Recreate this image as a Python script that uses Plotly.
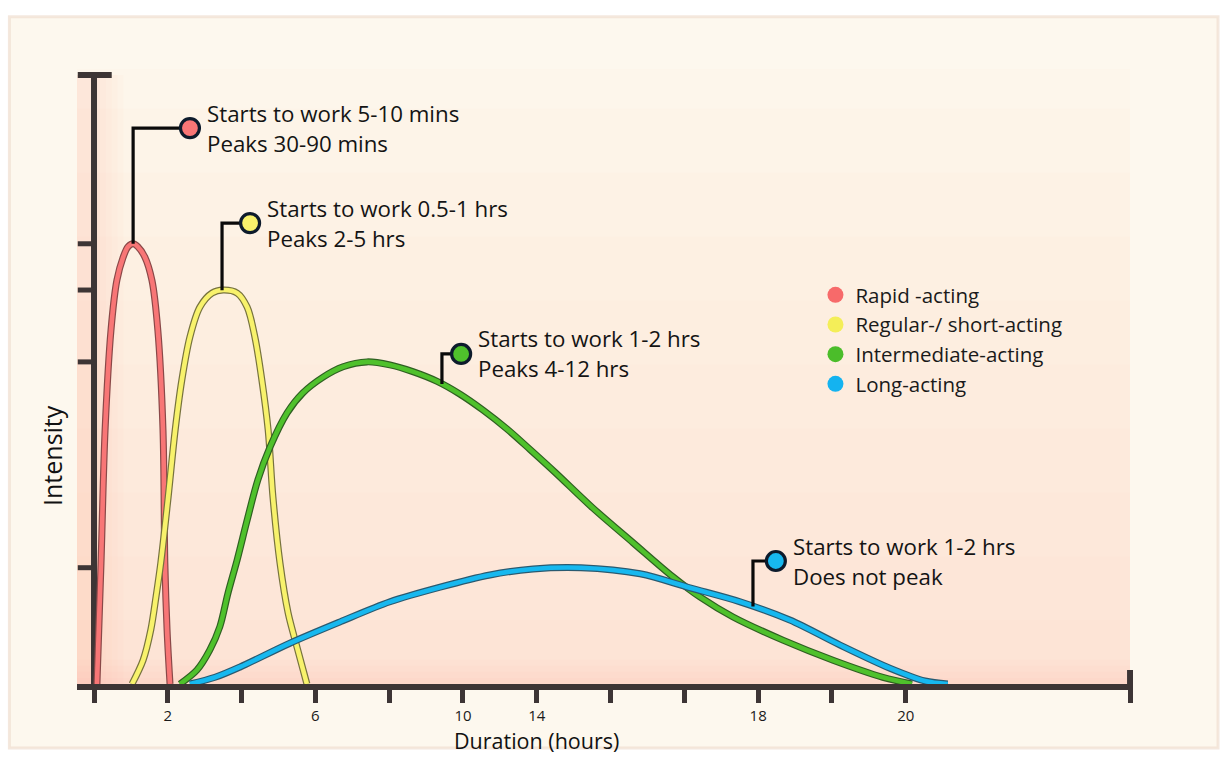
import numpy as np
import plotly.graph_objects as go

# ---------------- data ----------------
# x = duration (hours, one axis tick = 2 h), y = relative intensity (0-100 scale)
rapid_x = [0.08, 0.19, 0.30, 0.46, 0.62, 0.79, 0.92, 1.06, 1.19, 1.38, 1.57, 1.73, 1.87, 1.92, 1.98, 2.06]
rapid_y = [0, 19.9, 41.7, 58.1, 66.3, 70.1, 71.8, 72.3, 71.8, 70.1, 66.3, 58.1, 41.7, 19.9, 8.9, 0]

regular_x = [1.03, 1.33, 1.54, 1.68, 1.81, 2.01, 2.20, 2.38, 2.60, 2.87, 3.20, 3.50, 3.88, 4.15, 4.36,
             4.55, 4.72, 4.85, 5.04, 5.26, 5.50, 5.77]
regular_y = [0, 3.9, 8.9, 14.3, 19.9, 30.7, 41.7, 49.9, 57.0, 61.9, 64.2, 64.7, 64.2, 61.9, 57.0,
             49.9, 41.7, 30.7, 19.9, 11.7, 6.1, 0]

inter_x = [2.33, 2.79, 3.14, 3.41, 3.63, 3.88, 4.15, 4.44, 4.77, 5.23, 5.66, 6.21, 6.75, 7.40, 8.02,
           8.64, 9.30, 9.92, 10.54, 11.19, 11.82, 12.49, 13.52, 14.61, 15.69, 16.42, 17.32, 18.67,
           20.03, 21.38, 22.17]
inter_y = [0, 2.3, 5.6, 9.4, 14.9, 20.4, 26.9, 33.5, 38.9, 44.5, 47.8, 50.4, 52.1, 52.9, 52.4,
           51.3, 49.7, 47.6, 45.0, 41.9, 38.5, 34.8, 28.9, 23.2, 17.6, 14.3, 11.0, 7.2,
           3.9, 1.1, 0]

long_x = [2.60, 3.28, 3.96, 5.31, 6.67, 8.02, 9.38, 10.73, 11.90, 13.20, 14.80, 16.15, 17.51, 18.86,
          20.22, 21.57, 22.52, 23.14]
long_y = [0, 1.1, 2.8, 6.7, 10.2, 13.5, 15.9, 17.9, 18.9, 19.1, 18.1, 15.8, 13.5, 10.5,
          6.4, 2.6, 0.5, 0]

series_names = ["Rapid -acting", "Regular-/ short-acting", "Intermediate-acting", "Long-acting"]
callout_line1 = ["Starts to work 5-10 mins", "Starts to work 0.5-1 hrs",
                 "Starts to work 1-2 hrs", "Starts to work 1-2 hrs"]
callout_line2 = ["Peaks 30-90 mins", "Peaks 2-5 hrs", "Peaks 4-12 hrs", "Does not peak"]

tick_vals = [0, 2, 4, 6, 8, 10, 12, 14, 16, 18, 20, 22]
tick_text = ["", "2", "", "6", "", "10", "14", "", "", "18", "", "20"]

# ---------------- styling / layout constants ----------------
AXIS_END = 28.08
Y_TOP = 100
colors = ["#f87676", "#f8f26c", "#4fc12c", "#17b8ef"]
outline = ["#8a4848", "#77733e", "#2f5f22", "#2a5a70"]
legend_colors = ["#f76a6a", "#f4ee58", "#4bbd2a", "#14b3f0"]
stem_x = [1.06, 3.47, 9.43, 17.86]
elbow_y = [91.3, 75.7, 54.2, 20.2]
dot_x = [2.60, 4.23, 9.95, 18.48]
AX = "#3d3535"
FONT = "Open Sans"

xs = [rapid_x, regular_x, inter_x, long_x]
ys = [rapid_y, regular_y, inter_y, long_y]

fig = go.Figure()

# curves (dark outline under coloured line)
for i in range(4):
    fig.add_trace(go.Scatter(x=xs[i], y=ys[i], mode="lines",
                             line=dict(color=outline[i], width=7, shape="spline", smoothing=0.9),
                             hoverinfo="skip", showlegend=False))
    fig.add_trace(go.Scatter(x=xs[i], y=ys[i], mode="lines",
                             line=dict(color=colors[i], width=4.6, shape="spline", smoothing=0.9),
                             name=series_names[i], showlegend=False))

# callouts
annotations = []
for i in range(4):
    y_on_curve = float(np.interp(stem_x[i], xs[i], ys[i]))
    fig.add_trace(go.Scatter(x=[stem_x[i], stem_x[i], dot_x[i]], y=[y_on_curve, elbow_y[i], elbow_y[i]],
                             mode="lines", line=dict(color="#0a0a0a", width=3.2),
                             hoverinfo="skip", showlegend=False))
    fig.add_trace(go.Scatter(x=[dot_x[i]], y=[elbow_y[i]], mode="markers",
                             marker=dict(size=19, color=colors[i], line=dict(color="#0d1b2c", width=3.2)),
                             hoverinfo="skip", showlegend=False, cliponaxis=False))
    for txt, ysh in ((callout_line1[i], 15), (callout_line2[i], -15)):
        annotations.append(dict(x=dot_x[i], y=elbow_y[i], xref="x", yref="y", text=txt, showarrow=False,
                                xanchor="left", yanchor="middle", xshift=15, yshift=ysh,
                                font=dict(family=FONT, size=22.3, color="#141414")))

# legend entries (coloured balls)
for i in range(4):
    fig.add_trace(go.Scatter(x=[None], y=[None], mode="markers", name=series_names[i],
                             legendgroup=series_names[i],
                             marker=dict(size=16, color=legend_colors[i], line=dict(width=0))))

# axis titles
annotations.append(dict(x=0.4356, y=-0.1185, xref="paper", yref="paper", text="Duration (hours)",
                        showarrow=False, xanchor="center", yanchor="bottom",
                        font=dict(family=FONT, size=21.5, color="#111")))
annotations.append(dict(x=-0.0237, y=0.3724, xref="paper", yref="paper", text="Intensity", showarrow=False,
                        textangle=-90, xanchor="center", yanchor="middle",
                        font=dict(family=FONT, size=25, color="#111")))

peaks = [max(v) for v in ys]

shapes = [
    # card background
    dict(type="rect", xref="paper", yref="paper", x0=-0.064, x1=1.0805, y0=-0.104, y1=1.085,
         fillcolor="#fdf8ee", line=dict(color="rgba(240,222,208,0.7)", width=3), layer="below"),
]
# soft warm gradient over the plotting region (stronger toward the axes)
for k in range(1, 11):
    shapes.append(dict(type="rect", xref="x", yref="y", x0=-0.46, x1=AXIS_END, y0=0, y1=k * 10.5,
                       fillcolor="rgba(250,200,182,0.035)", line=dict(width=0), layer="below"))
for k in range(1, 6):
    shapes.append(dict(type="rect", xref="x", yref="y", x0=-0.46, x1=k * 0.16, y0=0, y1=Y_TOP,
                       fillcolor="rgba(246,160,150,0.035)", line=dict(width=0), layer="below"))
for k in range(1, 5):
    shapes.append(dict(type="rect", xref="x", yref="y", x0=-0.46, x1=AXIS_END, y0=0, y1=k * 1.0,
                       fillcolor="rgba(246,160,150,0.04)", line=dict(width=0), layer="below"))
shapes += [
    # y axis line and cap
    dict(type="line", xref="x", yref="y", x0=0, x1=0, y0=0, y1=Y_TOP, line=dict(color=AX, width=6), layer="below"),
    dict(type="line", xref="x", yref="y", x0=-0.44, x1=0.48, y0=Y_TOP, y1=Y_TOP,
         line=dict(color=AX, width=6), layer="below"),
    # right end cap of x axis (upper half)
    dict(type="line", xref="x", yref="y", x0=AXIS_END, x1=AXIS_END, y0=0, y1=2.3,
         line=dict(color=AX, width=6), layer="below"),
]
for p in peaks:
    shapes.append(dict(type="line", xref="x", yref="y", x0=-0.44, x1=0, y0=p, y1=p,
                       line=dict(color=AX, width=5), layer="below"))

fig.update_layout(
    width=1226, height=758,
    margin=dict(l=77, r=93, t=69, b=74),
    paper_bgcolor="#ffffff", plot_bgcolor="rgba(0,0,0,0)",
    font=dict(family=FONT, color="#141414"),
    shapes=shapes, annotations=annotations,
    showlegend=True,
    legend=dict(x=0.6993, y=0.665, xanchor="left", yanchor="top", bgcolor="rgba(0,0,0,0)",
                font=dict(family=FONT, size=20.5, color="#1a1a1a"), traceorder="grouped", tracegroupgap=0,
                itemsizing="trace"),
    xaxis=dict(range=[-0.461, 28.16], showline=True, linecolor=AX, linewidth=6, ticks="outside", ticklen=13,
               tickwidth=5, tickcolor=AX, tickvals=tick_vals + [AXIS_END], ticktext=tick_text + [""],
               showgrid=False, zeroline=False, tickfont=dict(family=FONT, size=15, color="#1a1a1a")),
    yaxis=dict(range=[0, 101], showline=False, showgrid=False, zeroline=False, showticklabels=False, ticks=""),
)

fig.write_html("out.html", config={"displayModeBar": False},
               post_script="document.body.style.margin='0px';document.documentElement.style.overflow='hidden';")
